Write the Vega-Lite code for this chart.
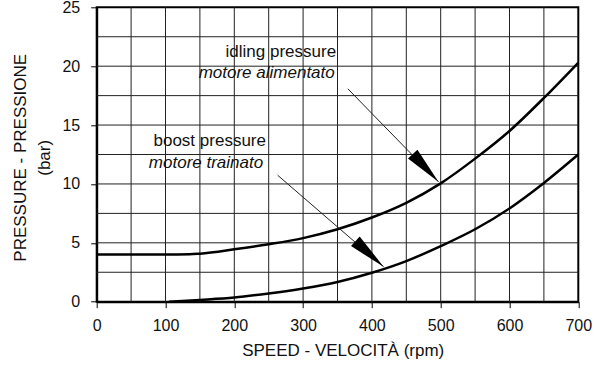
{
  "$schema": "https://vega.github.io/schema/vega-lite/v6.json",
  "width": 481.6,
  "height": 294.4,
  "autosize": "none",
  "padding": {"left": 96.7, "top": 7.3, "right": 23.7, "bottom": 63.3},
  "background": "white",
  "config": {
    "view": {"stroke": "#000", "strokeWidth": 2},
    "font": "Liberation Sans",
    "axis": {
      "grid": false,
      "domainColor": "#000", "domainWidth": 2,
      "tickColor": "#000", "tickWidth": 1, "tickSize": 6,
      "labelFont": "Liberation Sans", "labelFontSize": 16, "labelColor": "#111",
      "labelFlush": false, "labelOverlap": false,
      "titleFont": "Liberation Sans", "titleFontSize": 17, "titleFontWeight": "normal", "titleColor": "#111"
    }
  },
  "datasets": {
    "gridX": [
      {"speed": 50}, {"speed": 100}, {"speed": 150}, {"speed": 200}, {"speed": 250}, {"speed": 300}, {"speed": 350},
      {"speed": 400}, {"speed": 450}, {"speed": 500}, {"speed": 550}, {"speed": 600}, {"speed": 650}
    ],
    "gridY": [
      {"pressure": 2.5}, {"pressure": 5}, {"pressure": 7.5}, {"pressure": 10}, {"pressure": 12.5},
      {"pressure": 15}, {"pressure": 17.5}, {"pressure": 20}, {"pressure": 22.5}
    ],
    "curves": [
      {"series": "idling", "speed": 0, "pressure": 4.0},
      {"series": "idling", "speed": 50, "pressure": 4.0},
      {"series": "idling", "speed": 100, "pressure": 4.0},
      {"series": "idling", "speed": 135, "pressure": 4.02},
      {"series": "idling", "speed": 150, "pressure": 4.08},
      {"series": "idling", "speed": 200, "pressure": 4.45},
      {"series": "idling", "speed": 250, "pressure": 4.88},
      {"series": "idling", "speed": 300, "pressure": 5.4},
      {"series": "idling", "speed": 350, "pressure": 6.15},
      {"series": "idling", "speed": 400, "pressure": 7.15},
      {"series": "idling", "speed": 450, "pressure": 8.4},
      {"series": "idling", "speed": 500, "pressure": 10.05},
      {"series": "idling", "speed": 550, "pressure": 12.15},
      {"series": "idling", "speed": 600, "pressure": 14.5},
      {"series": "idling", "speed": 650, "pressure": 17.3},
      {"series": "idling", "speed": 700, "pressure": 20.3},
      {"series": "boost", "speed": 105, "pressure": 0.0},
      {"series": "boost", "speed": 150, "pressure": 0.15},
      {"series": "boost", "speed": 200, "pressure": 0.35},
      {"series": "boost", "speed": 250, "pressure": 0.7},
      {"series": "boost", "speed": 300, "pressure": 1.13},
      {"series": "boost", "speed": 350, "pressure": 1.68},
      {"series": "boost", "speed": 400, "pressure": 2.46},
      {"series": "boost", "speed": 450, "pressure": 3.45},
      {"series": "boost", "speed": 500, "pressure": 4.72},
      {"series": "boost", "speed": 550, "pressure": 6.15},
      {"series": "boost", "speed": 600, "pressure": 7.92},
      {"series": "boost", "speed": 650, "pressure": 10.08},
      {"series": "boost", "speed": 700, "pressure": 12.5}
    ],
    "arrows": [
      {"arrow": "idling", "speed": 365, "pressure": 18.08},
      {"arrow": "idling", "speed": 497, "pressure": 10.17},
      {"arrow": "boost", "speed": 263, "pressure": 10.74},
      {"arrow": "boost", "speed": 417, "pressure": 2.97}
    ],
    "heads1": [{"arrow": "idling", "speed": 497, "pressure": 10.17}],
    "heads2": [{"arrow": "boost", "speed": 417, "pressure": 2.97}],
    "labelsUpright": [
      {"text": "idling pressure", "speed": 348, "pressure": 20.76},
      {"text": "boost pressure", "speed": 246, "pressure": 13.24}
    ],
    "labelsItalic": [
      {"text": "motore alimentato", "speed": 346, "pressure": 18.98},
      {"text": "motore trainato", "speed": 242, "pressure": 11.38}
    ]
  },
  "layer": [
    {
      "data": {"name": "curves"},
      "mark": {"type": "line", "color": "#000", "strokeWidth": 2.5, "interpolate": "monotone", "opacity": 0},
      "encoding": {
        "x": {
          "field": "speed", "type": "quantitative",
          "scale": {"domain": [0, 700], "nice": false, "zero": false},
          "axis": {
            "values": [0, 50, 100, 150, 200, 250, 300, 350, 400, 450, 500, 550, 600, 650, 700],
            "labelExpr": "datum.value % 100 === 0 ? datum.label : ''",
            "labelPadding": 10,
            "title": "SPEED - VELOCITÀ  (rpm)",
            "titleX": 246, "titleY": 49, "titleBaseline": "middle", "titleAlign": "center"
          }
        },
        "y": {
          "field": "pressure", "type": "quantitative",
          "scale": {"domain": [0, 25], "nice": false},
          "axis": {
            "values": [0, 2.5, 5, 7.5, 10, 12.5, 15, 17.5, 20, 22.5, 25],
            "labelExpr": "datum.value % 5 === 0 ? datum.label : ''",
            "labelPadding": 11,
            "title": ["PRESSURE - PRESSIONE", "(bar)"],
            "titleLineHeight": 24,
            "titleAngle": -90,
            "titleX": -76, "titleY": 150, "titleBaseline": "middle", "titleAlign": "center"
          }
        },
        "detail": {"field": "series", "type": "nominal"}
      }
    },
    {
      "data": {"name": "gridX"},
      "mark": {"type": "rule", "color": "#222", "strokeWidth": 1},
      "encoding": {"x": {"field": "speed", "type": "quantitative"}}
    },
    {
      "data": {"name": "gridY"},
      "mark": {"type": "rule", "color": "#222", "strokeWidth": 1},
      "encoding": {"y": {"field": "pressure", "type": "quantitative"}}
    },
    {
      "data": {"name": "curves"},
      "mark": {"type": "line", "color": "#000", "strokeWidth": 2.5, "interpolate": "monotone"},
      "encoding": {
        "x": {"field": "speed", "type": "quantitative"},
        "y": {"field": "pressure", "type": "quantitative"},
        "detail": {"field": "series", "type": "nominal"}
      }
    },
    {
      "data": {"name": "arrows"},
      "mark": {"type": "line", "color": "#222", "strokeWidth": 1},
      "encoding": {
        "x": {"field": "speed", "type": "quantitative"},
        "y": {"field": "pressure", "type": "quantitative"},
        "detail": {"field": "arrow", "type": "nominal"}
      }
    },
    {
      "data": {"name": "heads1"},
      "mark": {"type": "point", "shape": "M0,0L-2,-0.34L-2,0.34Z", "size": 1444, "angle": 47, "filled": true, "color": "#000", "opacity": 1, "strokeWidth": 0},
      "encoding": {
        "x": {"field": "speed", "type": "quantitative"},
        "y": {"field": "pressure", "type": "quantitative"}
      }
    },
    {
      "data": {"name": "heads2"},
      "mark": {"type": "point", "shape": "M0,0L-2,-0.34L-2,0.34Z", "size": 1444, "angle": 42, "filled": true, "color": "#000", "opacity": 1, "strokeWidth": 0},
      "encoding": {
        "x": {"field": "speed", "type": "quantitative"},
        "y": {"field": "pressure", "type": "quantitative"}
      }
    },
    {
      "data": {"name": "labelsUpright"},
      "mark": {"type": "text", "align": "right", "baseline": "alphabetic", "fontSize": 17, "font": "Liberation Sans", "color": "#111"},
      "encoding": {
        "x": {"field": "speed", "type": "quantitative"},
        "y": {"field": "pressure", "type": "quantitative"},
        "text": {"field": "text"}
      }
    },
    {
      "data": {"name": "labelsItalic"},
      "mark": {"type": "text", "align": "right", "baseline": "alphabetic", "fontSize": 17, "font": "Liberation Sans", "fontStyle": "italic", "color": "#111"},
      "encoding": {
        "x": {"field": "speed", "type": "quantitative"},
        "y": {"field": "pressure", "type": "quantitative"},
        "text": {"field": "text"}
      }
    }
  ]
}
